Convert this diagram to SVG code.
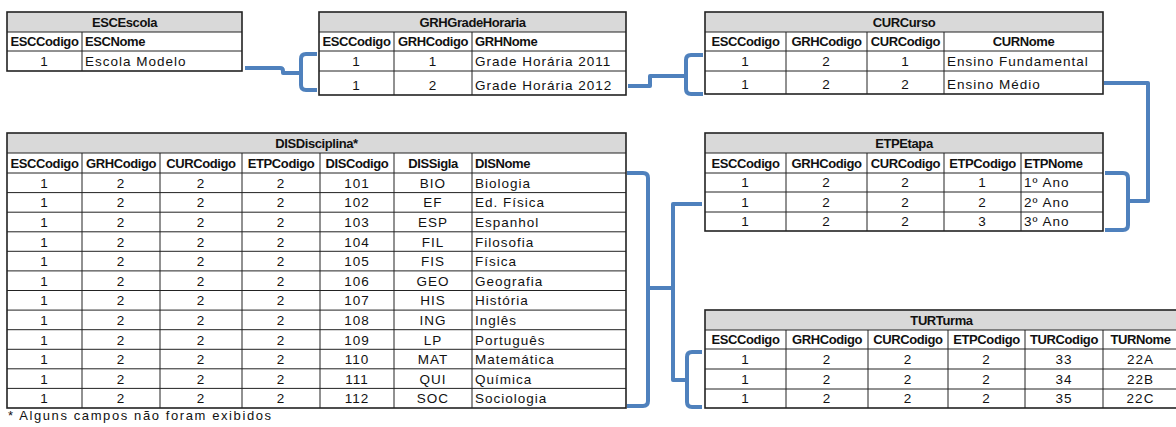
<svg xmlns="http://www.w3.org/2000/svg" width="1176" height="427" viewBox="0 0 1176 427">
<style>
text{font-family:"Liberation Sans",Arial,sans-serif;font-size:13.5px;letter-spacing:1px;fill:#111}
.b{font-weight:bold;font-size:13px;letter-spacing:-0.4px}
.c{text-anchor:middle}
.fn{letter-spacing:1.6px;font-size:13px}
.bg{fill:#fff}
.hd{fill:#d9d9d9}
.grid{stroke:#222;stroke-width:1;fill:none}
.out{stroke:#222;stroke-width:1.6;fill:none}
.conn{stroke:#4f81bd;stroke-width:4;fill:none;stroke-linejoin:round;stroke-linecap:butt}
</style>
<rect width="1176" height="427" fill="#fff"/>

<g id="ESCEscola">
<rect class="bg" x="7" y="12" width="235" height="59"/>
<rect class="hd" x="7" y="12" width="235" height="20"/>
<path class="grid" d="M7,32H242M7,51H242M82,32V71"/>
<rect class="out" x="7" y="12" width="235" height="59"/>
<text class="b c" x="124.5" y="26.5">ESCEscola</text>
<text class="b c" x="44.5" y="46">ESCCodigo</text>
<text class="b" x="85" y="46">ESCNome</text>
<text class="c" x="44.5" y="66">1</text>
<text x="85" y="66">Escola Modelo</text>
</g>

<g id="GRHGradeHoraria">
<rect class="bg" x="319" y="12" width="307" height="83"/>
<rect class="hd" x="319" y="12" width="307" height="20"/>
<path class="grid" d="M319,32H626M319,51H626M319,71H626M394,32V95M472,32V95"/>
<rect class="out" x="319" y="12" width="307" height="83"/>
<text class="b c" x="472.5" y="26.5">GRHGradeHoraria</text>
<text class="b c" x="356.5" y="46">ESCCodigo</text>
<text class="b c" x="433" y="46">GRHCodigo</text>
<text class="b" x="475" y="46">GRHNome</text>
<text class="c" x="356.5" y="66">1</text>
<text class="c" x="433" y="66">1</text>
<text x="475" y="66">Grade Horária 2011</text>
<text class="c" x="356.5" y="89.5">1</text>
<text class="c" x="433" y="89.5">2</text>
<text x="475" y="89.5">Grade Horária 2012</text>
</g>

<g id="CURCurso">
<rect class="bg" x="705" y="12" width="398" height="82"/>
<rect class="hd" x="705" y="12" width="398" height="20"/>
<path class="grid" d="M705,32H1103M705,51H1103M705,71H1103M786,32V94M867,32V94M944,32V94"/>
<rect class="out" x="705" y="12" width="398" height="82"/>
<text class="b c" x="904" y="26.5">CURCurso</text>
<text class="b c" x="745.5" y="46">ESCCodigo</text>
<text class="b c" x="826.5" y="46">GRHCodigo</text>
<text class="b c" x="905.5" y="46">CURCodigo</text>
<text class="b c" x="1023.5" y="46">CURNome</text>
<text class="c" x="745.5" y="66">1</text>
<text class="c" x="826.5" y="66">2</text>
<text class="c" x="905.5" y="66">1</text>
<text x="947" y="66">Ensino Fundamental</text>
<text class="c" x="745.5" y="89">1</text>
<text class="c" x="826.5" y="89">2</text>
<text class="c" x="905.5" y="89">2</text>
<text x="947" y="89">Ensino Médio</text>
</g>

<g id="ETPEtapa">
<rect class="bg" x="705" y="133" width="398" height="98"/>
<rect class="hd" x="705" y="133" width="398" height="20"/>
<path class="grid" d="M705,153H1103M705,173H1103M705,192H1103M705,212H1103M786,153V231M867,153V231M944,153V231M1021,153V231"/>
<rect class="out" x="705" y="133" width="398" height="98"/>
<text class="b c" x="904" y="147.5">ETPEtapa</text>
<text class="b c" x="745.5" y="167.5">ESCCodigo</text>
<text class="b c" x="826.5" y="167.5">GRHCodigo</text>
<text class="b c" x="905.5" y="167.5">CURCodigo</text>
<text class="b c" x="982.5" y="167.5">ETPCodigo</text>
<text class="b" x="1024" y="167.5">ETPNome</text>
<text class="c" x="745.5" y="187">1</text><text class="c" x="826.5" y="187">2</text><text class="c" x="905.5" y="187">2</text><text class="c" x="982.5" y="187">1</text><text x="1024" y="187">1º Ano</text>
<text class="c" x="745.5" y="206.5">1</text><text class="c" x="826.5" y="206.5">2</text><text class="c" x="905.5" y="206.5">2</text><text class="c" x="982.5" y="206.5">2</text><text x="1024" y="206.5">2º Ano</text>
<text class="c" x="745.5" y="226">1</text><text class="c" x="826.5" y="226">2</text><text class="c" x="905.5" y="226">2</text><text class="c" x="982.5" y="226">3</text><text x="1024" y="226">3º Ano</text>
</g>

<g id="DISDisciplina">
<rect class="bg" x="7" y="133" width="619" height="275"/>
<rect class="hd" x="7" y="133" width="619" height="20"/>
<path class="grid" d="M7,153H626M7,173H626M7,192.6H626M7,212.2H626M7,231.8H626M7,251.3H626M7,270.9H626M7,290.5H626M7,310.1H626M7,329.7H626M7,349.3H626M7,368.8H626M7,388.4H626M82,153V408M160,153V408M242,153V408M320,153V408M394,153V408M472,153V408"/>
<rect class="out" x="7" y="133" width="619" height="275"/>
<text class="b c" x="316.5" y="147.5">DISDisciplina*</text>
<text class="b c" x="44.5" y="167.5">ESCCodigo</text>
<text class="b c" x="121" y="167.5">GRHCodigo</text>
<text class="b c" x="201" y="167.5">CURCodigo</text>
<text class="b c" x="281" y="167.5">ETPCodigo</text>
<text class="b c" x="357" y="167.5">DISCodigo</text>
<text class="b c" x="433" y="167.5">DISSigla</text>
<text class="b" x="475" y="167.5">DISNome</text>
<text class="c" x="44.5" y="187.5">1</text><text class="c" x="121" y="187.5">2</text><text class="c" x="201" y="187.5">2</text><text class="c" x="281" y="187.5">2</text><text class="c" x="357" y="187.5">101</text><text class="c" x="433" y="187.5">BIO</text>
<text class="c" x="44.5" y="207">1</text><text class="c" x="121" y="207">2</text><text class="c" x="201" y="207">2</text><text class="c" x="281" y="207">2</text><text class="c" x="357" y="207">102</text><text class="c" x="433" y="207">EF</text>
<text class="c" x="44.5" y="227">1</text><text class="c" x="121" y="227">2</text><text class="c" x="201" y="227">2</text><text class="c" x="281" y="227">2</text><text class="c" x="357" y="227">103</text><text class="c" x="433" y="227">ESP</text>
<text class="c" x="44.5" y="246.5">1</text><text class="c" x="121" y="246.5">2</text><text class="c" x="201" y="246.5">2</text><text class="c" x="281" y="246.5">2</text><text class="c" x="357" y="246.5">104</text><text class="c" x="433" y="246.5">FIL</text>
<text class="c" x="44.5" y="266">1</text><text class="c" x="121" y="266">2</text><text class="c" x="201" y="266">2</text><text class="c" x="281" y="266">2</text><text class="c" x="357" y="266">105</text><text class="c" x="433" y="266">FIS</text>
<text class="c" x="44.5" y="285.5">1</text><text class="c" x="121" y="285.5">2</text><text class="c" x="201" y="285.5">2</text><text class="c" x="281" y="285.5">2</text><text class="c" x="357" y="285.5">106</text><text class="c" x="433" y="285.5">GEO</text>
<text class="c" x="44.5" y="305">1</text><text class="c" x="121" y="305">2</text><text class="c" x="201" y="305">2</text><text class="c" x="281" y="305">2</text><text class="c" x="357" y="305">107</text><text class="c" x="433" y="305">HIS</text>
<text class="c" x="44.5" y="324.5">1</text><text class="c" x="121" y="324.5">2</text><text class="c" x="201" y="324.5">2</text><text class="c" x="281" y="324.5">2</text><text class="c" x="357" y="324.5">108</text><text class="c" x="433" y="324.5">ING</text>
<text class="c" x="44.5" y="344.5">1</text><text class="c" x="121" y="344.5">2</text><text class="c" x="201" y="344.5">2</text><text class="c" x="281" y="344.5">2</text><text class="c" x="357" y="344.5">109</text><text class="c" x="433" y="344.5">LP</text>
<text class="c" x="44.5" y="364">1</text><text class="c" x="121" y="364">2</text><text class="c" x="201" y="364">2</text><text class="c" x="281" y="364">2</text><text class="c" x="357" y="364">110</text><text class="c" x="433" y="364">MAT</text>
<text class="c" x="44.5" y="383.5">1</text><text class="c" x="121" y="383.5">2</text><text class="c" x="201" y="383.5">2</text><text class="c" x="281" y="383.5">2</text><text class="c" x="357" y="383.5">111</text><text class="c" x="433" y="383.5">QUI</text>
<text class="c" x="44.5" y="403">1</text><text class="c" x="121" y="403">2</text><text class="c" x="201" y="403">2</text><text class="c" x="281" y="403">2</text><text class="c" x="357" y="403">112</text><text class="c" x="433" y="403">SOC</text>
<text x="475" y="187.5">Biologia</text>
<text x="475" y="207">Ed. Física</text>
<text x="475" y="227">Espanhol</text>
<text x="475" y="246.5">Filosofia</text>
<text x="475" y="266">Física</text>
<text x="475" y="285.5">Geografia</text>
<text x="475" y="305">História</text>
<text x="475" y="324.5">Inglês</text>
<text x="475" y="344.5">Português</text>
<text x="475" y="364">Matemática</text>
<text x="475" y="383.5">Química</text>
<text x="475" y="403">Sociologia</text>
</g>

<g id="footnote">
<text class="fn" x="8" y="420">* Alguns campos não foram exibidos</text>
</g>

<g id="TURTurma">
<rect class="bg" x="705" y="310" width="474" height="98"/>
<rect class="hd" x="705" y="310" width="474" height="20"/>
<path class="grid" d="M705,330H1179M705,349H1179M705,369H1179M705,389H1179M786,330V408M868,330V408M948,330V408M1025,330V408M1103,330V408"/>
<rect class="out" x="705" y="310" width="474" height="98"/>
<text class="b c" x="941.5" y="324.5">TURTurma</text>
<text class="b c" x="745.5" y="344">ESCCodigo</text>
<text class="b c" x="827" y="344">GRHCodigo</text>
<text class="b c" x="908" y="344">CURCodigo</text>
<text class="b c" x="986.5" y="344">ETPCodigo</text>
<text class="b c" x="1064" y="344">TURCodigo</text>
<text class="b c" x="1140.5" y="344">TURNome</text>
<text class="c" x="745.5" y="364">1</text><text class="c" x="827" y="364">2</text><text class="c" x="908" y="364">2</text><text class="c" x="986.5" y="364">2</text><text class="c" x="1064" y="364">33</text><text class="c" x="1140.5" y="364">22A</text>
<text class="c" x="745.5" y="384">1</text><text class="c" x="827" y="384">2</text><text class="c" x="908" y="384">2</text><text class="c" x="986.5" y="384">2</text><text class="c" x="1064" y="384">34</text><text class="c" x="1140.5" y="384">22B</text>
<text class="c" x="745.5" y="403">1</text><text class="c" x="827" y="403">2</text><text class="c" x="908" y="403">2</text><text class="c" x="986.5" y="403">2</text><text class="c" x="1064" y="403">35</text><text class="c" x="1140.5" y="403">22C</text>
</g>

<g id="connectors">
<path class="conn" d="M245,68H280Q283,68 283,71V73H299"/>
<path class="conn" d="M317,54H306Q301,54 301,59V85Q301,90 306,90H317"/>
<path class="conn" d="M628,86H650V76H686"/>
<path class="conn" d="M703,55H691Q686,55 686,60V89Q686,94 691,94H703"/>
<path class="conn" d="M1104,83H1148V201H1128"/>
<path class="conn" d="M1105,173H1123Q1128,173 1128,178V225Q1128,230 1123,230H1105"/>
<path class="conn" d="M627,173H643Q648,173 648,178V401Q648,406 643,406H627"/>
<path class="conn" d="M648,288H673"/>
<path class="conn" d="M702,204H673V380H687"/>
<path class="conn" d="M702,352H692Q687,352 687,357V402Q687,407 692,407H702"/>
</g>
</svg>
